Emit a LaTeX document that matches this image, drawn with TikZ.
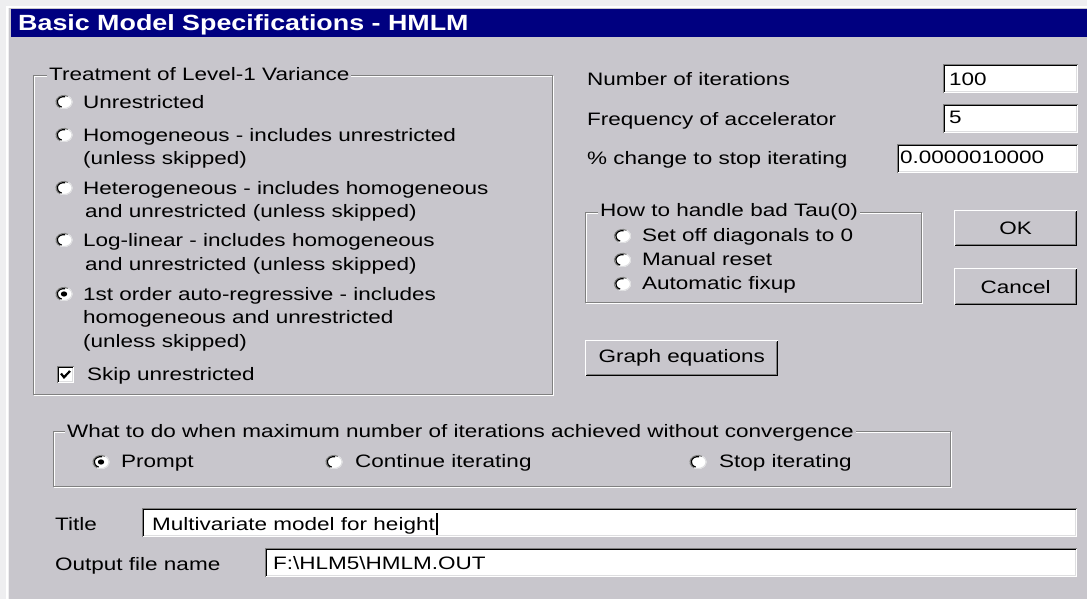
\documentclass[tikz,border=0pt]{standalone}
\usepackage{fontspec}
\setmainfont{Liberation Sans}
\newfontfamily\uifam[FakeStretch=1.25]{Liberation Sans}
\newfontfamily\ttlfam[FakeStretch=1.22]{Liberation Sans}
\newcommand\uitext{\uifam\fontsize{18}{21}\selectfont}
\newcommand\ttltext{\ttlfam\bfseries\fontsize{22}{26}\selectfont}
\definecolor{dlg}{RGB}{200,198,204}
\definecolor{navybar}{RGB}{0,0,128}
\definecolor{darkedge}{RGB}{128,128,128}
\definecolor{outerbg}{RGB}{238,238,240}
\definecolor{liteedge}{RGB}{222,222,224}
\tikzset{
  lbl/.style={anchor=base west,inner sep=0pt,font=\uitext,text=black},
  grplbl/.style={anchor=base west,inner xsep=2pt,inner ysep=0pt,fill=dlg,font=\uitext,text=black},
  radiob/.style={rectangle,minimum width=17pt,minimum height=14pt,inner sep=0pt},
  fieldbox/.style={rectangle,fill=white,anchor=north west,inner sep=0pt},
  btnbox/.style={rectangle,fill=dlg,anchor=north west,inner sep=0pt,font=\uitext},
  grpbox/.style={rectangle,anchor=north west,inner sep=0pt},
}
\newcommand\radiobtn[3]{%
  \node[radiob] (#1) at (#2,#3) {};
  \fill[white] (#1.center) ellipse[x radius=8.5,y radius=7];
  \draw[liteedge,line width=1pt] ([shift={(250:8 and 6.5)}]#1.center) arc[start angle=250,end angle=430,x radius=8,y radius=6.5];
  \draw[darkedge,line width=1.2pt] ([shift={(60:8 and 6.5)}]#1.center) arc[start angle=60,end angle=240,x radius=8,y radius=6.5];
  \draw[black,line width=1.2pt] ([shift={(80:6.8 and 5.4)}]#1.center) arc[start angle=80,end angle=250,x radius=6.8,y radius=5.4];
}
\newcommand\radiodot[1]{\fill[black] (#1.center) ellipse[x radius=3.2,y radius=2.6];}
\newcommand\sunken[1]{%
  \draw[white,line width=1pt] ([shift={(0.5,0.5)}]#1.south west) -| ([shift={(-0.5,-0.5)}]#1.north east);
  \draw[liteedge,line width=1pt] ([shift={(1.5,1.5)}]#1.south west) -| ([shift={(-1.5,-1.5)}]#1.north east);
  \draw[darkedge,line width=1pt] ([shift={(0.5,0.5)}]#1.south west) |- ([shift={(-0.5,-0.5)}]#1.north east);
  \draw[black,line width=1pt] ([shift={(1.5,1.5)}]#1.south west) |- ([shift={(-1.5,-1.5)}]#1.north east);
}
\newcommand\raised[1]{%
  \draw[white,line width=1pt] ([shift={(0.5,0.5)}]#1.south west) |- ([shift={(-0.5,-0.5)}]#1.north east);
  \draw[darkedge,line width=1pt] ([shift={(1.5,1.5)}]#1.south west) -| ([shift={(-1.5,-1.5)}]#1.north east);
  \draw[black,line width=1pt] ([shift={(0.5,0.5)}]#1.south west) -| ([shift={(-0.5,-0.5)}]#1.north east);
}
\newcommand\etched[1]{%
  \draw[white,line width=1pt] ([shift={(1.5,-1.5)}]#1.north west) rectangle ([shift={(1.5,-1.5)}]#1.south east);
  \draw[darkedge,line width=1pt] ([shift={(0.5,-0.5)}]#1.north west) rectangle ([shift={(0.5,-0.5)}]#1.south east);
}
\begin{document}
\begin{tikzpicture}[x=1pt,y=1pt]
\useasboundingbox (0,0) rectangle (1087,-599);
% window background
\fill[outerbg] (0,0) rectangle (1087,-599);
\draw[white,line width=2pt] (7,-599) -- (7,-7) -- (1087,-7);
\fill[dlg] (9,-8) rectangle (1087,-599);
\node[anchor=north west,fill=navybar,minimum width=1076pt,minimum height=28pt,inner sep=0pt] (bar) at (11,-9) {};
\node[anchor=base west,inner sep=0pt,font=\ttltext,text=white] (ttl) at (18,-31) {Basic Model Specifications - HMLM};

% ---------- Treatment of Level-1 Variance ----------
\node[grpbox,minimum width=519pt,minimum height=319pt] (gTreat) at (33,-75) {};
\etched{gTreat}
\node[grplbl] (lTreat) at (47,-81) {Treatment of Level-1 Variance};

\radiobtn{rU}{64}{-102}
\node[lbl] (tU) at (83,-108.5) {Unrestricted};
\radiobtn{rHo}{64}{-135}
\node[lbl] (tHo1) at (83,-141.5) {Homogeneous - includes unrestricted};
\node[lbl] (tHo2) at (83,-164.5) {(unless skipped)};
\radiobtn{rHe}{64}{-188}
\node[lbl] (tHe1) at (83,-194.5) {Heterogeneous - includes homogeneous};
\node[lbl] (tHe2) at (85,-217.5) {and unrestricted (unless skipped)};
\radiobtn{rLL}{64}{-240}
\node[lbl] (tLL1) at (83,-246.5) {Log-linear - includes homogeneous};
\node[lbl] (tLL2) at (85,-270.5) {and unrestricted (unless skipped)};
\radiobtn{rAR}{64}{-294}
\radiodot{rAR}
\node[lbl] (tAR1) at (83,-300.5) {1st order auto-regressive - includes};
\node[lbl] (tAR2) at (83,-323.5) {homogeneous and unrestricted};
\node[lbl] (tAR3) at (83,-347.5) {(unless skipped)};

\node[rectangle,fill=white,minimum size=17pt,inner sep=0pt] (cb) at (65.5,-374.5) {};
\sunken{cb}
\draw[black,line width=2.2pt] ([shift={(-4.5,1)}]cb.center) -- ([shift={(-1.5,-2.8)}]cb.center) -- ([shift={(4.5,3.5)}]cb.center);
\node[lbl] (tSkip) at (87,-380) {Skip unrestricted};

% ---------- Iteration settings ----------
\node[lbl] (lIter) at (587,-86) {Number of iterations};
\node[fieldbox,minimum width=135pt,minimum height=29pt] (fIter) at (943,-64) {};
\sunken{fIter}
\node[lbl] (vIter) at (949,-85.5) {100};

\node[lbl] (lAcc) at (587,-125.5) {Frequency of accelerator};
\node[fieldbox,minimum width=135pt,minimum height=29pt] (fAcc) at (943,-104) {};
\sunken{fAcc}
\node[lbl] (vAcc) at (949,-124) {5};

\node[lbl] (lChg) at (587,-164.5) {\% change to stop iterating};
\node[fieldbox,minimum width=181pt,minimum height=29pt] (fChg) at (897,-144) {};
\sunken{fChg}
\node[lbl] (vChg) at (900,-163.5) {0.0000010000};

% ---------- Tau(0) ----------
\node[grpbox,minimum width=336pt,minimum height=90pt] (gTau) at (585,-212) {};
\etched{gTau}
\node[grplbl] (lTau) at (598,-216.5) {How to handle bad Tau(0)};
\radiobtn{rT1}{622.5}{-236}
\node[lbl] (tT1) at (642,-241) {Set off diagonals to 0};
\radiobtn{rT2}{622.5}{-260}
\node[lbl] (tT2) at (642,-265) {Manual reset};
\radiobtn{rT3}{622.5}{-284}
\node[lbl] (tT3) at (642,-289) {Automatic fixup};

% ---------- Buttons ----------
\node[btnbox,minimum width=123pt,minimum height=36pt] (bOK) at (954,-210) {OK};
\raised{bOK}
\node[btnbox,minimum width=123pt,minimum height=37pt] (bCancel) at (954,-268) {Cancel};
\raised{bCancel}
\node[btnbox,minimum width=193pt,minimum height=36pt] (bGraph) at (585,-340) {Graph equations};
\raised{bGraph}

% ---------- Convergence ----------
\node[grpbox,minimum width=897pt,minimum height=55pt] (gConv) at (53,-431) {};
\etched{gConv}
\node[grplbl] (lConv) at (65,-437) {What to do when maximum number of iterations achieved without convergence};
\radiobtn{rP}{101}{-462}
\radiodot{rP}
\node[lbl] (tP) at (121,-467.5) {Prompt};
\radiobtn{rC}{334}{-462}
\node[lbl] (tC) at (355,-467.5) {Continue iterating};
\radiobtn{rS}{698}{-462}
\node[lbl] (tS) at (719,-467.5) {Stop iterating};

% ---------- Title / output ----------
\node[lbl] (lTitle) at (55,-530) {Title};
\node[fieldbox,minimum width=935pt,minimum height=29pt] (fTitle) at (142,-508) {};
\sunken{fTitle}
\node[lbl] (vTitle) at (152,-530) {Multivariate model for height};
\draw[black,line width=1.2pt] ([shift={(2,-5)}]vTitle.base east) -- ([shift={(2,17)}]vTitle.base east);

\node[lbl] (lOut) at (55,-570) {Output file name};
\node[fieldbox,minimum width=812pt,minimum height=29pt] (fOut) at (265,-548) {};
\sunken{fOut}
\node[lbl] (vOut) at (273,-569.5) {F:\textbackslash HLM5\textbackslash HMLM.OUT};
\end{tikzpicture}
\end{document}
